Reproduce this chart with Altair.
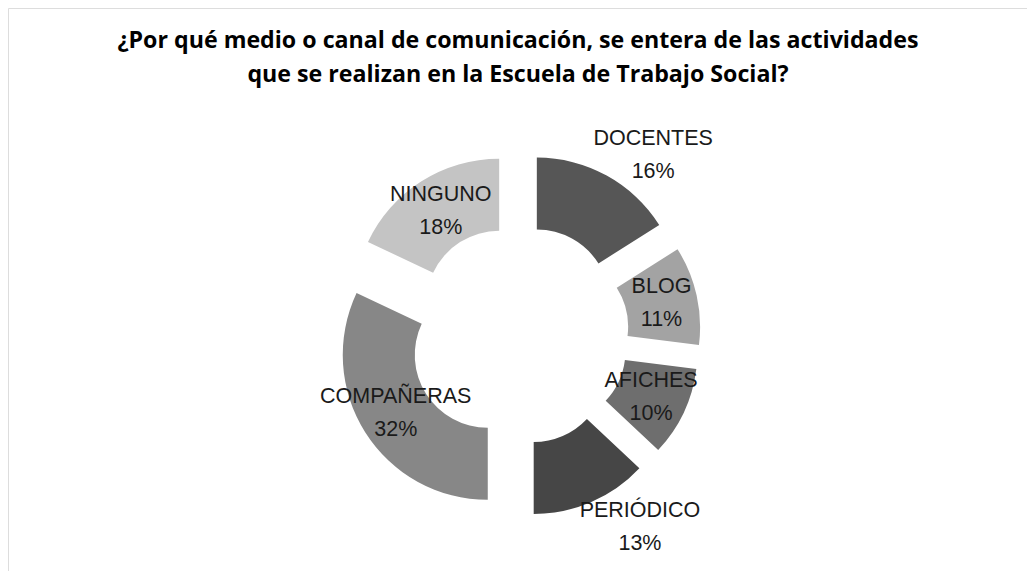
import altair as alt
import pandas as pd

# ---- data ----
categories = ["DOCENTES", "BLOG", "AFICHES", "PERIÓDICO", "COMPAÑERAS", "NINGUNO"]
percent = [16, 11, 10, 13, 32, 18]
colors = ["#565656", "#a3a3a3", "#6e6e6e", "#464646", "#878787", "#c4c4c4"]

# label layout (distance from donut centre, angular shift in degrees)
label_radius = [224, 146, 146, 227, 146, 146]
label_shift = [8, 0, 0, -8.8, 0, 0]

title_lines = [
    "¿Por qué medio o canal de comunicación, se entera de las actividades",
    "que se realizan en la Escuela de Trabajo Social?",
]

W, H = 1019, 563
CX, CY = 511, 327
EXPLODE = 37
R_OUT, R_IN = 145, 73
LINE_H = 33

df = pd.DataFrame({
    "idx": list(range(len(categories))),
    "cat": categories,
    "v": percent,
    "lr": label_radius,
    "ls": label_shift,
    "label": [f"{c}\n{p}%" for c, p in zip(categories, percent)],
})

base = alt.Chart(df).transform_window(
    cum="sum(v)", sort=[alt.SortField("idx")], frame=[None, 0]
).transform_joinaggregate(
    total="sum(v)"
).transform_calculate(
    a1="datum.cum / datum.total * 2 * PI",
    a0="(datum.cum - datum.v) / datum.total * 2 * PI",
).transform_calculate(
    mid="(datum.a0 + datum.a1) / 2",
).transform_calculate(
    cx=f"{CX} + {EXPLODE} * sin(datum.mid)",
    cy=f"{CY} - {EXPLODE} * cos(datum.mid)",
    tx=f"{CX} + datum.lr * sin(datum.mid + datum.ls * PI / 180)",
    ty=f"{CY} - datum.lr * cos(datum.mid + datum.ls * PI / 180)",
)

arcs = base.mark_arc(outerRadius=R_OUT, innerRadius=R_IN).encode(
    x=alt.X("cx:Q", scale=None),
    y=alt.Y("cy:Q", scale=None),
    theta=alt.Theta("a0:Q", scale=None),
    theta2=alt.Theta2("a1:Q"),
    color=alt.Color("cat:N", scale=alt.Scale(domain=categories, range=colors), legend=None),
)

labels = base.mark_text(
    font="Liberation Sans", fontSize=21.5, color="#1a1a1a",
    lineBreak="\n", lineHeight=LINE_H, align="center", baseline="middle",
    dy=-LINE_H / 2,
).encode(
    x=alt.X("tx:Q", scale=None),
    y=alt.Y("ty:Q", scale=None),
    text="label:N",
)

title_df = pd.DataFrame({"t": ["\n".join(title_lines)]})
title = alt.Chart(title_df).mark_text(
    font="Open Sans", fontSize=23.2, fontWeight="bold", color="#000000",
    lineBreak="\n", lineHeight=33.5, align="center", baseline="alphabetic",
).encode(
    x=alt.value(510), y=alt.value(40), text="t:N",
)

chart = alt.layer(arcs, labels, title).properties(
    width=W, height=H, autosize=alt.AutoSizeParams(type="none"), padding=0,
).configure_view(
    stroke="#8c8c8c", strokeWidth=2,
).configure(background="white")

chart.save("out.html", embed_options={"renderer": "svg", "actions": False})
